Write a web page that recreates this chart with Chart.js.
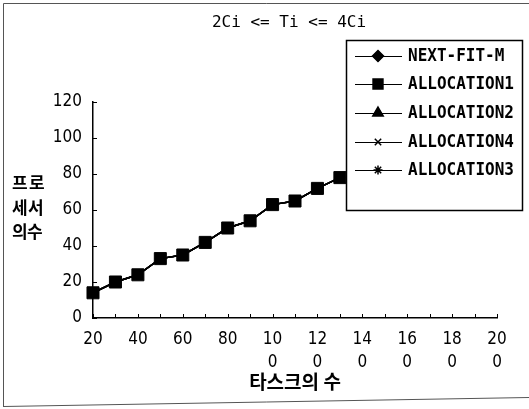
<!DOCTYPE html>
<html>
<head>
<meta charset="utf-8">
<script src="https://cdn.jsdelivr.net/npm/chart.js@4/dist/chart.umd.min.js"></script>
<style>
  html, body { margin: 0; padding: 0; background: #fff; }
  #wrap { width: 529px; height: 409px; position: relative; }
</style>
</head>
<body>
<div id="wrap"><canvas id="c" width="529" height="409"></canvas></div>
<script>
// ---- data ----
const titleText = '2Ci <= Ti <= 4Ci';
const xTitle = '타스크의 수';
const yTitleRows = [['프', '로'], ['세', '서'], ['의', '수']];
const categories = [20, 30, 40, 50, 60, 70, 80, 90, 100, 110, 120, 130, 140, 150, 160, 170, 180, 190, 200];
// values beyond 130 are hidden by the legend box in the reference
const nextFitM    = [14, 20, 24, 33, 35, 42, 50, 54, 63, 65, 72, 78, null, null, null, null, null, null, null];
const allocation1 = [14, 20, 24, 33, 35, 42, 50, 54, 63, 65, 72, 78, null, null, null, null, null, null, null];
const allocation2 = [14, 20, 24, 33, 35, 42, 50, 54, 63, 65, 72, 78, null, null, null, null, null, null, null];
const allocation4 = [14, 20, 24, 33, 35, 42, 50, 54, 63, 65, 72, 78, null, null, null, null, null, null, null];
const allocation3 = [14, 20, 24, 33, 35, 42, 50, 54, 63, 65, 72, 78, null, null, null, null, null, null, null];
const seriesNames = ['NEXT-FIT-M', 'ALLOCATION1', 'ALLOCATION2', 'ALLOCATION4', 'ALLOCATION3'];
const yTicks = [0, 20, 40, 60, 80, 100, 120];

// ---- font detection ----
function hasFont(name) {
  const cv = document.createElement('canvas').getContext('2d');
  const s = 'ALLOCATION 1234567890';
  cv.font = '40px monospace'; const a = cv.measureText(s).width;
  cv.font = '40px "' + name + '", monospace'; const b = cv.measureText(s).width;
  return a !== b;
}
let tickFamily = 'DejaVu Sans Condensed';
let tickSize = 17;
if (hasFont('Liberation Sans Narrow')) { tickFamily = 'Liberation Sans Narrow'; tickSize = 18; }
const monoFamily = '"DejaVu Sans Mono", "Liberation Mono", monospace';
const krFamily = '"Noto Sans CJK KR", "Noto Sans CJK SC", sans-serif';

const styles = [
  { pointStyle: 'rectRot', radius: 5, order: 2 },
  { pointStyle: 'rect', radius: 8.5, order: 0 },
  { pointStyle: 'triangle', radius: 5, order: 3 },
  { pointStyle: 'crossRot', radius: 4, order: 4 },
  { pointStyle: 'star', radius: 4, order: 5 }
];
const allSeries = [nextFitM, allocation1, allocation2, allocation4, allocation3];

const datasets = allSeries.map((d, i) => ({
  label: seriesNames[i],
  data: d,
  borderColor: '#000',
  backgroundColor: '#000',
  borderWidth: 1.5,
  pointStyle: styles[i].pointStyle,
  pointRadius: styles[i].radius,
  pointBorderWidth: 1,
  pointBackgroundColor: '#000',
  pointBorderColor: '#000',
  order: styles[i].order,
  tension: 0,
  spanGaps: false
}));

const decor = {
  id: 'decor',
  beforeDatasetsDraw(chart) {
    const ctx = chart.ctx, xs = chart.scales.x, ys = chart.scales.y;
    ctx.save();
    ctx.strokeStyle = '#000';
    ctx.lineWidth = 1;
    categories.forEach((c, i) => {
      const px = Math.round(xs.getPixelForValue(i)) + 0.5;
      ctx.beginPath(); ctx.moveTo(px, ys.bottom); ctx.lineTo(px, ys.bottom - 4); ctx.stroke();
    });
    yTicks.forEach(v => {
      const py = Math.round(ys.getPixelForValue(v)) + 0.5;
      ctx.beginPath(); ctx.moveTo(xs.left, py); ctx.lineTo(xs.left + 4, py); ctx.stroke();
    });
    ctx.restore();
  },
  afterDraw(chart) {
    const ctx = chart.ctx, xs = chart.scales.x;
    ctx.save();
    // outer frame
    ctx.strokeStyle = '#555';
    ctx.lineWidth = 1;
    ctx.beginPath();
    ctx.moveTo(3.5, 407); ctx.lineTo(3.5, 3.5); ctx.lineTo(529, 3.5);
    ctx.moveTo(3.5, 406.5); ctx.lineTo(529, 397.5);
    ctx.stroke();

    // title
    ctx.fillStyle = '#000';
    ctx.font = '16px ' + monoFamily;
    ctx.textAlign = 'center';
    ctx.textBaseline = 'middle';
    ctx.fillText(titleText, 289, 23);

    // x title
    ctx.font = 'bold 19px ' + krFamily;
    ctx.fillText(xTitle, (xs.left + xs.right) / 2, 382);

    // y title rows
    ctx.font = 'bold 17px ' + krFamily;
    ctx.textAlign = 'left';
    const rowY = [183, 208, 232];
    const colX = [[12, 29], [12, 28], [12, 27]];
    yTitleRows.forEach((row, r) => {
      row.forEach((ch, k) => ctx.fillText(ch, colX[r][k], rowY[r]));
    });

    // legend box (drawn over the data like the reference)
    const L = 346.5, T = 40.5, R = 522.5, B = 210.5;
    ctx.fillStyle = '#fff';
    ctx.fillRect(L, T, R - L, B - T);
    ctx.strokeStyle = '#000';
    ctx.lineWidth = 1.5;
    ctx.strokeRect(L, T, R - L, B - T);
    const rowsY = [56, 84, 113, 142, 170];
    const legR = [5.5, 7, 6, 4.5, 4.5];
    seriesNames.forEach((name, i) => {
      const y = rowsY[i];
      ctx.strokeStyle = '#000';
      ctx.lineWidth = 1;
      ctx.beginPath(); ctx.moveTo(355, y + 0.5); ctx.lineTo(402, y + 0.5); ctx.stroke();
      ctx.fillStyle = '#000';
      ctx.lineWidth = 1.5;
      Chart.helpers.drawPoint(ctx, { pointStyle: styles[i].pointStyle, radius: legR[i], borderWidth: 1.5 }, 378, y);
      if (styles[i].pointStyle !== 'crossRot' && styles[i].pointStyle !== 'star') ctx.fill();
      ctx.fillStyle = '#000';
      ctx.font = 'bold 16px ' + monoFamily;
      ctx.textAlign = 'left';
      ctx.textBaseline = 'middle';
      ctx.save();
      ctx.translate(408, y);
      ctx.scale(1, 1.15);
      ctx.fillText(name, 0, 0);
      ctx.restore();
    });
    ctx.restore();
  }
};

new Chart(document.getElementById('c'), {
  type: 'line',
  data: { labels: categories.map(String), datasets },
  options: {
    responsive: false,
    animation: false,
    devicePixelRatio: 1,
    layout: { padding: { top: 102, right: 32, bottom: 0, left: 0 } },
    plugins: { legend: { display: false }, title: { display: false }, tooltip: { enabled: false } },
    scales: {
      x: {
        type: 'category',
        offset: false,
        grid: { drawOnChartArea: false, drawTicks: false },
        border: { display: true, color: '#000', width: 1.5 },
        afterFit(scale) { scale.height = 91; },
        ticks: {
          autoSkip: false,
          maxRotation: 0,
          minRotation: 0,
          padding: 11,
          color: '#000',
          font: { family: tickFamily, size: tickSize, lineHeight: 1.3 },
          callback(val, idx) {
            if (idx % 2) return '';
            const s = String(categories[idx]);
            return s.length > 2 ? [s.slice(0, 2), s.slice(2)] : s;
          }
        }
      },
      y: {
        min: 0,
        max: 120,
        grid: { drawOnChartArea: false, drawTicks: false },
        border: { display: true, color: '#000', width: 1.5 },
        afterFit(scale) { scale.width = 93; },
        afterBuildTicks(scale) { scale.ticks = yTicks.map(v => ({ value: v })); },
        ticks: {
          padding: 11,
          color: '#000',
          font: { family: tickFamily, size: tickSize }
        }
      }
    }
  },
  plugins: [decor]
});
</script>
</body>
</html>
